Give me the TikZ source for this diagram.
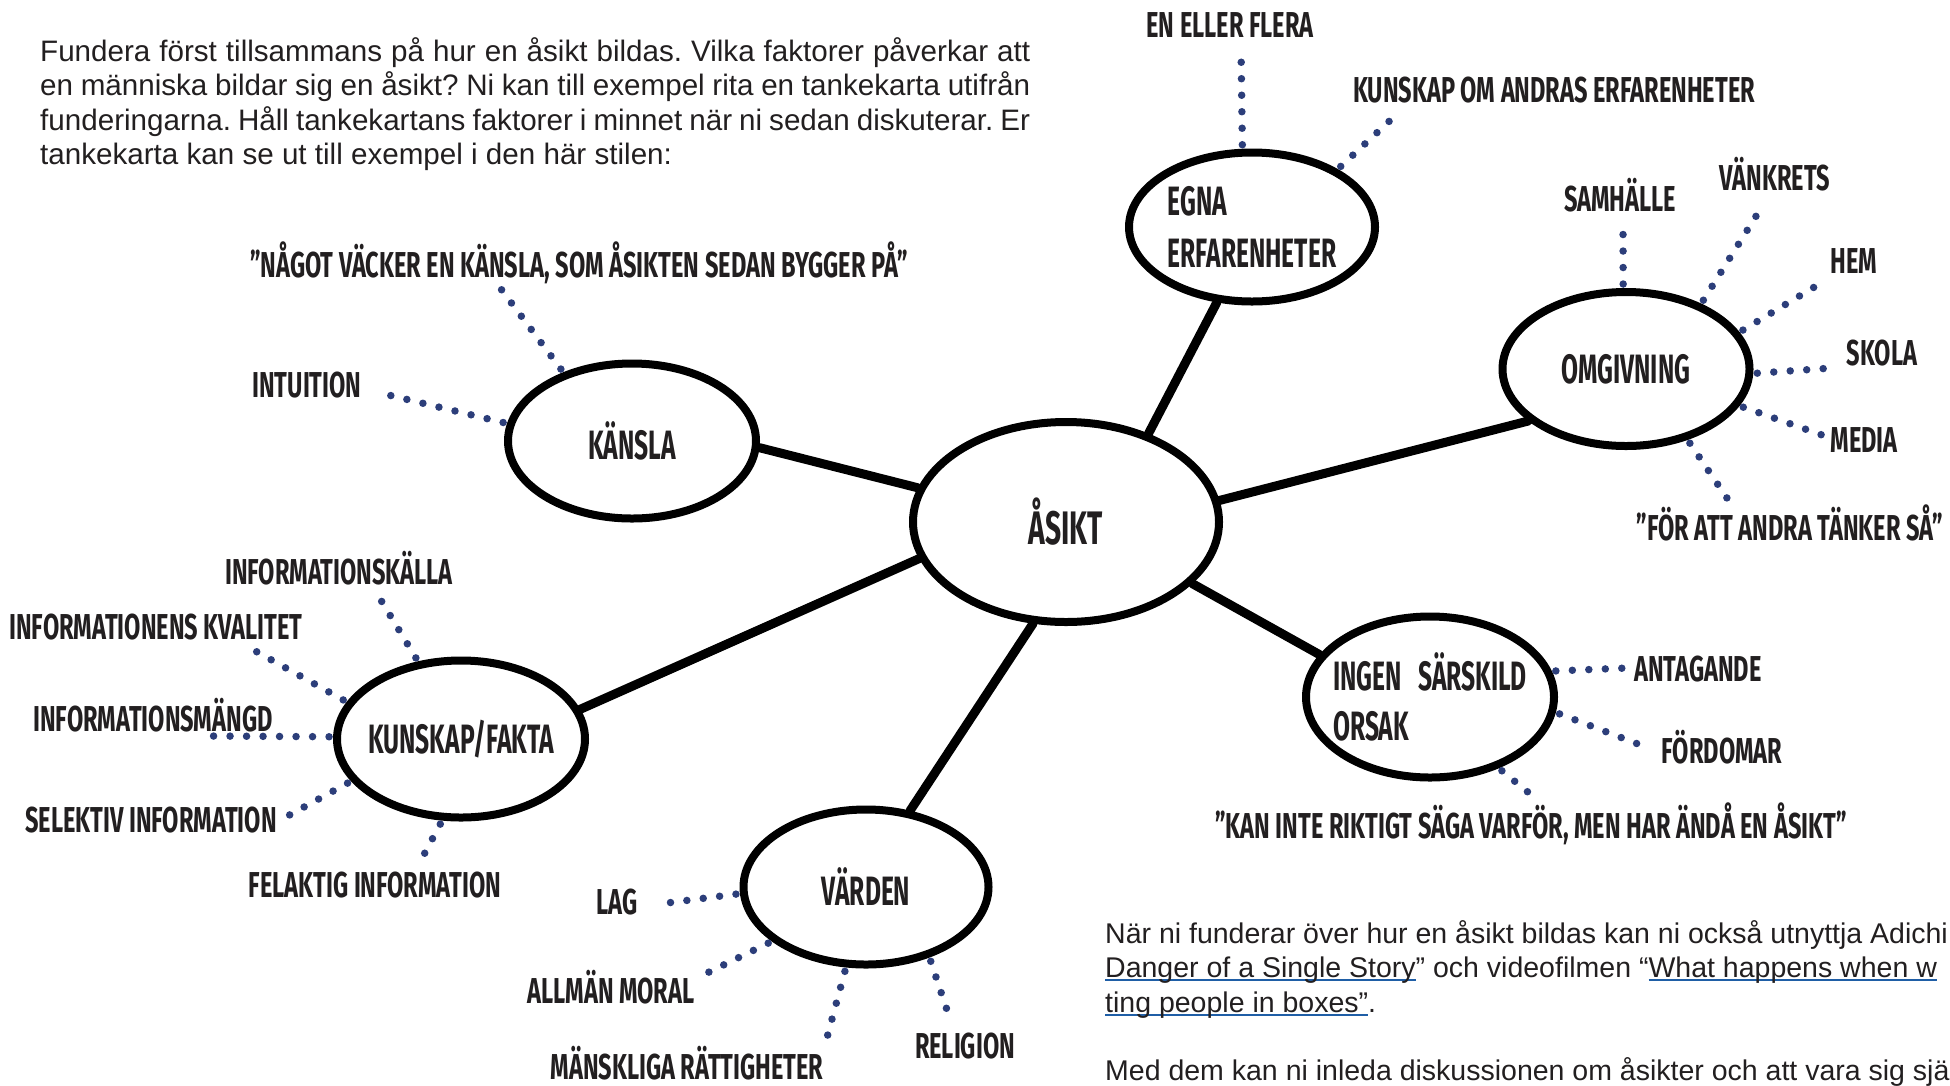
\documentclass[tikz,border=0pt]{standalone}
\usepackage{fontspec}
\setmainfont{Liberation Sans}
\newfontfamily\hand[FakeStretch=0.655]{Fira Sans}
\newfontfamily\handb[FakeStretch=0.6]{Fira Sans}
\usetikzlibrary{shapes.geometric}
\definecolor{dotblue}{RGB}{44,62,122}
\definecolor{linkblue}{RGB}{31,94,166}
\definecolor{txt}{RGB}{34,31,32}
\newsavebox{\lnkbox}
\newcommand{\lnk}[1]{\sbox{\lnkbox}{#1}{\color{linkblue}\rlap{\rule[-4pt]{\wd\lnkbox}{2pt}}\usebox{\lnkbox}}}
\newcommand{\jline}[1]{\makebox[990pt][s]{#1}}
\frenchspacing
\begin{document}
\begin{tikzpicture}[x=1pt,y=-1pt,
  bubble/.style={ellipse, draw=black, line width=8pt, inner sep=-40pt, text=txt, align=left,
    font=\handb\bfseries\fontsize{41}{50}\selectfont},
  lbl/.style={anchor=base, inner sep=0pt, text=txt, font=\hand\bfseries\fontsize{36}{40}\selectfont},
  para/.style={anchor=base west, inner sep=0pt, text=txt, font=\fontsize{29.6}{34.5}\selectfont},
  parb/.style={anchor=base west, inner sep=0pt, text=txt, font=\fontsize{28.5}{34.5}\selectfont},
  conn/.style={line width=9pt, line cap=round},
  dotline/.style={draw=dotblue, line width=7.5pt, line cap=round, dash pattern=on 0pt off 16.5pt, shorten <=4pt},
]
\useasboundingbox (0,0) rectangle (1950,1085);
\fill[white] (0,0) rectangle (1950,1085);
\clip (0,0) rectangle (1950,1085);

% paragraph top (justified)
\node[para] (p1) at (40,61) {\jline{Fundera först tillsammans på hur en åsikt bildas. Vilka faktorer påverkar att}};
\node[para] (p2) at (40,95.5) {\jline{en människa bildar sig en åsikt? Ni kan till exempel rita en tankekarta utifrån}};
\node[para] (p3) at (40,130) {\jline{funderingarna. Håll tankekartans faktorer i minnet när ni sedan diskuterar. Er}};
\node[para] (p4) at (40,164.5) {tankekarta kan se ut till exempel i den här stilen:};

% paragraph bottom
\node[parb] (q1) at (1105,943) {När ni funderar över hur en åsikt bildas kan ni också utnyttja Adichi};
\node[parb] (q2) at (1105,977) {\lnk{Danger of a Single Story}” och videofilmen “\lnk{What happens when w}};
\node[parb] (q3) at (1105,1012) {\lnk{ting people in boxes”}.};
\node[parb] (q4) at (1105,1080) {Med dem kan ni inleda diskussionen om åsikter och att vara sig sjä};

% bubbles
\node[bubble, minimum width=306pt, minimum height=200pt, font=\handb\bfseries\fontsize{47}{50}\selectfont] (asikt) at (1066,522) {ÅSIKT};
\node[bubble, minimum width=246pt, minimum height=149pt, font=\handb\bfseries\fontsize{41}{52}\selectfont] (egna) at (1252,227) {EGNA\\ERFARENHETER};
\node[bubble, minimum width=247pt, minimum height=154pt] (omg) at (1626,369) {OMGIVNING};
\node[bubble, minimum width=248pt, minimum height=155pt] (kansla) at (632,441) {KÄNSLA};
\node[bubble, minimum width=248pt, minimum height=157pt] (kunskap) at (461,739) {KUNSKAP/FAKTA};
\node[bubble, minimum width=245pt, minimum height=155pt] (varden) at (866,887) {VÄRDEN};
\node[bubble, minimum width=248pt, minimum height=161pt] (ingen) at (1430,697) {INGEN\hspace{0.4em}SÄRSKILD\\ORSAK};

% thick connectors
\draw[conn] (asikt.47) -- (egna.245);
\draw[conn] (asikt.8) -- (omg.208);
\draw[conn] (asikt.167) -- (kansla.357);
\draw[conn] (asikt.194) -- (kunskap.14);
\draw[conn] (asikt.252) -- (varden.60);
\draw[conn] (asikt.334) -- (ingen.159);

% labels
\node[lbl] (lflera) at (1230,37) {EN ELLER FLERA};
\node[lbl] (landras) at (1554,102) {KUNSKAP OM ANDRAS ERFARENHETER};
\node[lbl] (lsamh) at (1620,211) {SAMHÄLLE};
\node[lbl] (lvank) at (1775,190) {VÄNKRETS};
\node[lbl] (lhem) at (1854,273) {HEM};
\node[lbl] (lskola) at (1882,365) {SKOLA};
\node[lbl] (lmedia) at (1864,452) {MEDIA};
\node[lbl] (ltank) at (1790,540) {”FÖR ATT ANDRA TÄNKER SÅ”};
\node[lbl] (lnagot) at (579,277) {”NÅGOT VÄCKER EN KÄNSLA, SOM ÅSIKTEN SEDAN BYGGER PÅ”};
\node[lbl] (lintu) at (307,397) {INTUITION};
\node[lbl] (lkalla) at (339,584) {INFORMATIONSKÄLLA};
\node[lbl] (lkval) at (156,639) {INFORMATIONENS KVALITET};
\node[lbl] (lmangd) at (153,731) {INFORMATIONSMÄNGD};
\node[lbl] (lsel) at (151,832) {SELEKTIV INFORMATION};
\node[lbl] (lfel) at (375,897) {FELAKTIG INFORMATION};
\node[lbl] (llag) at (617,914) {LAG};
\node[lbl] (lmoral) at (611,1003) {ALLMÄN MORAL};
\node[lbl] (lratt) at (687,1079) {MÄNSKLIGA RÄTTIGHETER};
\node[lbl] (lrel) at (965,1058) {RELIGION};
\node[lbl] (lant) at (1698,681) {ANTAGANDE};
\node[lbl] (lford) at (1722,763) {FÖRDOMAR};
\node[lbl] (lkan) at (1531,838) {”KAN INTE RIKTIGT SÄGA VARFÖR, MEN HAR ÄNDÅ EN ÅSIKT”};

% dotted connector ends
\coordinate (dflera) at (1241,47);
\coordinate (dandras) at (1397,114);
\coordinate (dsamh) at (1623,224);
\coordinate (dvank) at (1763,205);
\coordinate (dhem) at (1826,280);
\coordinate (dskola) at (1832,368);
\coordinate (dmedia) at (1822,435);
\coordinate (dtank) at (1731,504);
\coordinate (dnagot) at (498,285);
\coordinate (dintu) at (376,392);
\coordinate (dkalla) at (379,597);
\coordinate (dkval) at (250,648);
\coordinate (dmangd) at (209,736);
\coordinate (dsel) at (284,818);
\coordinate (dfel) at (420,862);
\coordinate (dlag) at (659,904);
\coordinate (dmoral) at (705,974);
\coordinate (dratt) at (825,1045);
\coordinate (drel) at (951,1022);
\coordinate (dant) at (1627,668);
\coordinate (dford) at (1651,749);
\coordinate (dkan) at (1540,802);

% dotted connectors
\draw[dotline] (egna.97) -- (dflera);
\draw[dotline] (egna.34) -- (dandras);
\draw[dotline] (omg.92) -- (dsamh);
\draw[dotline] (omg.41) -- (dvank);
\draw[dotline] (omg.18) -- (dhem);
\draw[dotline] (omg.358) -- (dskola);
\draw[dotline] (omg.342) -- (dmedia);
\draw[dotline] (omg.311) -- (dtank);
\draw[dotline] (kansla.135) -- (dnagot);
\draw[dotline] (kansla.172) -- (dintu);
\draw[dotline] (kunskap.119) -- (dkalla);
\draw[dotline] (kunskap.162) -- (dkval);
\draw[dotline] (kunskap.179) -- (dmangd);
\draw[dotline] (kunskap.201) -- (dsel);
\draw[dotline] (kunskap.257) -- (dfel);
\draw[dotline] (varden.183) -- (dlag);
\draw[dotline] (varden.210) -- (dmoral);
\draw[dotline] (varden.256) -- (dratt);
\draw[dotline] (varden.312) -- (drel);
\draw[dotline] (ingen.12) -- (dant);
\draw[dotline] (ingen.353) -- (dford);
\draw[dotline] (ingen.314) -- (dkan);
\end{tikzpicture}
\end{document}
